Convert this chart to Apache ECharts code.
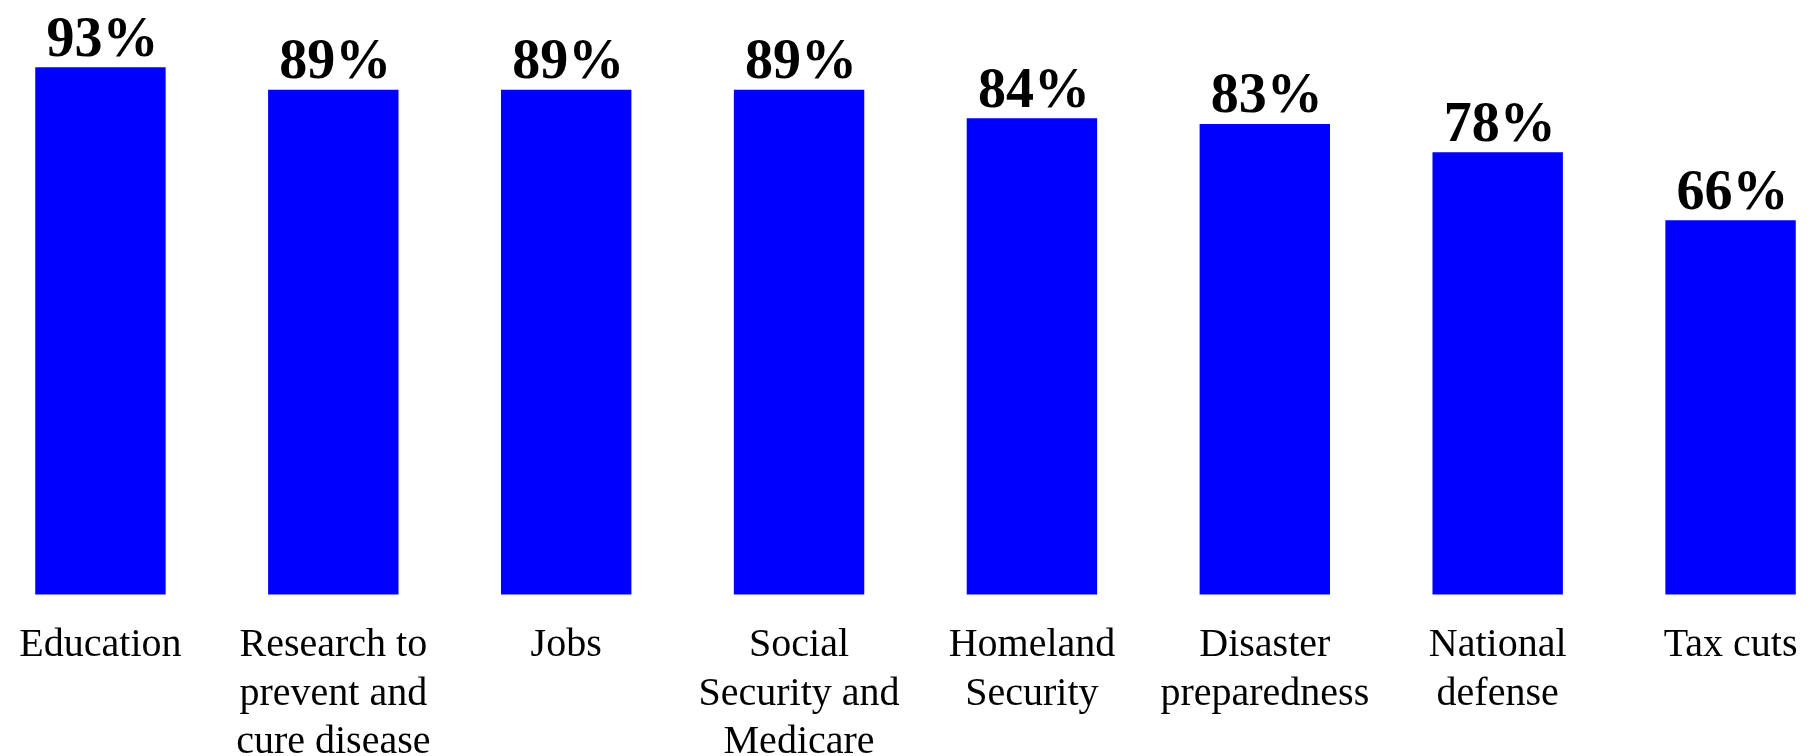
<!DOCTYPE html>
<html>
<head>
<meta charset="utf-8">
<script src="https://cdn.jsdelivr.net/npm/echarts@6/dist/echarts.min.js"></script>
<style>
html,body{margin:0;padding:0;background:#fff;}
#chart{width:1814px;height:756px;}
</style>
</head>
<body>
<div id="chart"></div>
<script>
const categories = [
  "Education",
  "Research to\nprevent and\ncure disease",
  "Jobs",
  "Social\nSecurity and\nMedicare",
  "Homeland\nSecurity",
  "Disaster\npreparedness",
  "National\ndefense",
  "Tax cuts"
];
const values = [93, 89, 89, 89, 84, 83, 78, 66];

const chart = echarts.init(document.getElementById('chart'), null, {renderer: 'canvas'});
chart.setOption({
  animation: false,
  backgroundColor: '#ffffff',
  grid: {left: -16, width: 1863, top: 27.5, bottom: 161.5, containLabel: false, outerBoundsMode: 'none'},
  xAxis: {
    type: 'category',
    data: categories,
    axisLine: {show: false},
    axisTick: {show: false},
    axisLabel: {
      interval: 0,
      margin: 27,
      color: '#000',
      fontFamily: 'Liberation Serif',
      fontSize: 40,
      lineHeight: 48.5,
      align: 'center'
    }
  },
  yAxis: {
    type: 'value',
    min: 0,
    max: 100,
    show: false,
    splitLine: {show: false}
  },
  series: [{
    type: 'bar',
    data: values,
    barCategoryGap: '44%',
    itemStyle: {color: '#0000FF'},
    label: {
      show: true,
      position: 'top',
      distance: -2,
      offset: [2, 0],
      formatter: '{c}%',
      color: '#000',
      fontFamily: 'Liberation Serif',
      fontWeight: 'bold',
      fontSize: 56
    }
  }]
});
</script>
</body>
</html>
